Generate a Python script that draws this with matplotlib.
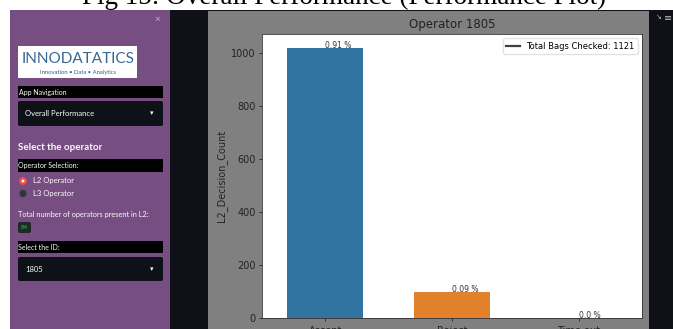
import matplotlib
matplotlib.use("Agg")
import matplotlib.pyplot as plt
from matplotlib.patches import Rectangle, FancyBboxPatch, Circle
from matplotlib.lines import Line2D

# chart data
decisions = ["Accept", "Reject", "Time out"]
counts = [1022, 98, 1]
bar_colors = ["#3274a1", "#e1812c", "#3a923a"]
operator_id = "1805"
total_bags = 1121

# sidebar content
nav_page = "Overall Performance"
radio_options = ["L2 Operator", "L3 Operator"]
operator_count = 84

W, H = 673, 329
SIDEBAR = "#774e82"
DARK = "#0e1117"
PANEL = "#808080"
UI_FONT = ["Lato", "DejaVu Sans"]

fig = plt.figure(figsize=(W / 100, H / 100), dpi=100, facecolor=DARK)

# background canvas in pixel units (origin top-left)
bg = fig.add_axes([0, 0, 1, 1], zorder=0)
bg.set_xlim(0, W)
bg.set_ylim(H, 0)
bg.axis("off")


def rect(x0, y0, x1, y1, color, rounded=False, **kw):
    if rounded:
        p = FancyBboxPatch((x0, y0), x1 - x0, y1 - y0,
                           boxstyle="round,pad=0,rounding_size=2",
                           facecolor=color, edgecolor="none", **kw)
    else:
        p = Rectangle((x0, y0), x1 - x0, y1 - y0, facecolor=color,
                      edgecolor="none", **kw)
    bg.add_patch(p)


def label(x, y, s, size=5.5, color="#fafafa", **kw):
    kw.setdefault("va", "center")
    kw.setdefault("family", UI_FONT)
    bg.text(x, y, s, fontsize=size, color=color, **kw)


# white caption strip on top, cut off screenshot caption
rect(0, 0, W, 10, "white")
rect(0, 10, 10, H, "white")
bg.text(344, 4.5, "Fig 15: Overall Performance (Performance Plot)",
        fontsize=19.5, family=["Liberation Serif", "DejaVu Serif"],
        ha="center", va="baseline", color="black")

# sidebar
rect(10, 10, 170, H, SIDEBAR)
label(157, 20, "×", size=7, color="#c9b6cf", ha="center")

# logo
rect(18, 46, 137, 78, "white")
label(78, 59, "INNODATATICS", size=11, color="#3a6794", ha="center")
label(78, 72.5, "Innovation • Data • Analytics", size=4.2,
      color="#2f5f8f", ha="center")

# navigation
rect(18, 86, 163, 98, "black")
label(19, 92, "App Navigation", size=5)
rect(18, 101, 163, 126, DARK, rounded=True)
label(25, 113.5, nav_page, size=5.5)
label(152, 113.5, "▾", size=5, ha="center", family=["DejaVu Sans"])

label(18, 148, "Select the operator", size=7, fontweight="bold")
rect(18, 159, 163, 172, "black")
label(18, 165.5, "Operator Selection:", size=5)

bg.add_patch(Circle((23, 181), 3.8, facecolor="#ff4b4b", edgecolor="none"))
bg.add_patch(Circle((23, 181), 1.4, facecolor="white", edgecolor="none"))
label(33, 181, radio_options[0], size=5.5)
bg.add_patch(Circle((23, 193.5), 3.8, facecolor="#31333f",
                    edgecolor="#555761", linewidth=0.6))
label(33, 193.5, radio_options[1], size=5.5)

label(18, 214, "Total number of operators present in L2:", size=5.3)
rect(18, 222, 31, 233, "#1f2a26", rounded=True)
label(24.5, 227.5, str(operator_count), size=4.5, color="#21c354",
      ha="center")

rect(18, 241, 163, 253, "black")
label(18, 247, "Select the ID:", size=5)
rect(18, 257, 163, 281, DARK, rounded=True)
label(25, 269, operator_id, size=5.5)
label(152, 269, "▾", size=5, ha="center", family=["DejaVu Sans"])

# figure panel from the app
rect(208, 11, 649, H, PANEL)
label(659, 17, "↘", size=5, color="#bbbbbb", ha="center",
      family=["DejaVu Sans"])
label(668, 18, "≡", size=7, color="#bbbbbb", ha="center",
      family=["DejaVu Sans"])

# the bar chart
ax = fig.add_axes([262 / W, 1 - 318 / H, (642 - 262) / W, (318 - 34) / H],
                  zorder=2)
ax.set_facecolor("white")
xs = list(range(len(decisions)))
bars = ax.bar(xs, counts, width=0.6, color=bar_colors)
ax.set_xlim(-0.5, len(decisions) - 0.5)
ax.set_ylim(0, max(counts) * 1.05)
ax.set_xticks(xs)
ax.set_xticklabels(decisions)
ax.set_yticks([0, 200, 400, 600, 800, 1000])
ax.tick_params(labelsize=7, length=2.5, width=0.6, pad=2, colors="#222222")
ax.tick_params(axis="x", pad=3.5)
for sp in ax.spines.values():
    sp.set_linewidth(0.6)
    sp.set_color("#333333")

for b, c in zip(bars, counts):
    ax.text(b.get_x() + b.get_width() / 2, b.get_height(),
            f"{round(c / total_bags, 2)} %", fontsize=5.5, color="#333333")

ax.set_ylabel("L2_Decision_Count", fontsize=7, color="#222222", labelpad=3)
ax.set_title(f"Operator {operator_id}", fontsize=8.5, color="#222222", pad=4.5)

handle = Line2D([], [], color="#404040", linewidth=1.6)
ax.legend([handle], [f"Total Bags Checked: {total_bags}"], loc="upper right",
          fontsize=6, handlelength=1.6, borderpad=0.4, framealpha=0.8,
          edgecolor="#dddddd", fancybox=True)

fig.savefig("out.png", dpi=100, facecolor=DARK)
